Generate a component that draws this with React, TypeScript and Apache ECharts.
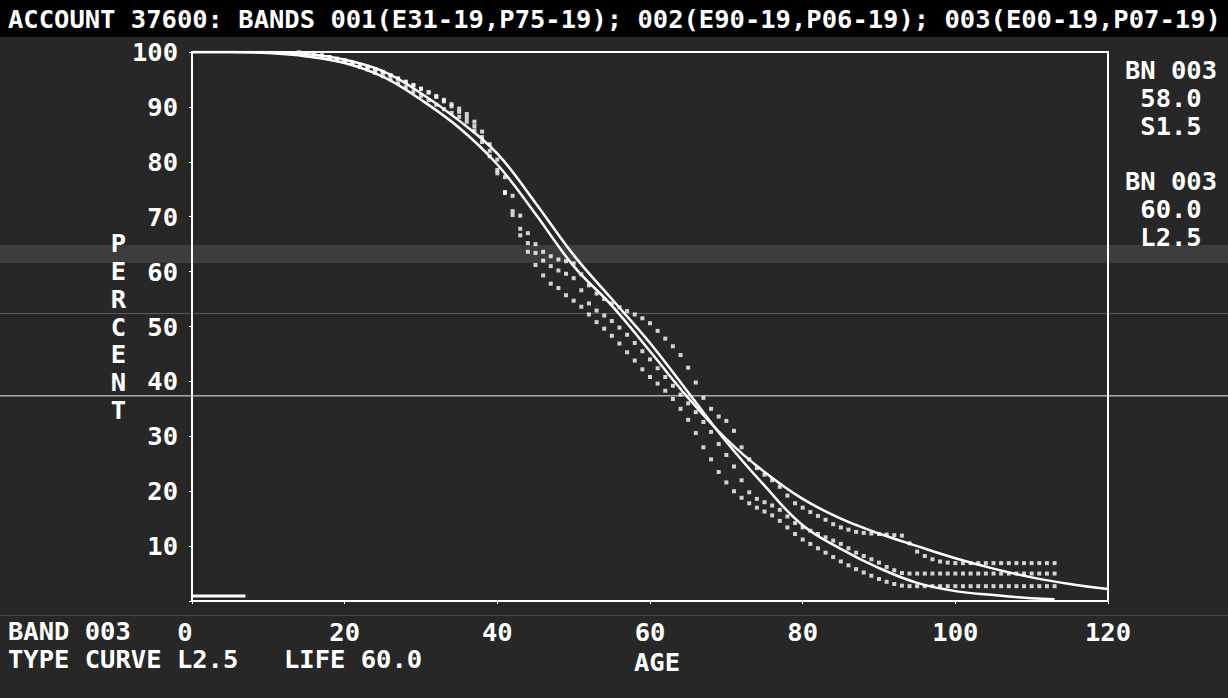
import React, { useEffect, useRef } from "react";
import * as echarts from "echarts";

const TITLE = "ACCOUNT 37600: BANDS 001(E31-19,P75-19); 002(E90-19,P06-19); 003(E00-19,P07-19)";
const xTicks = [0, 20, 40, 60, 80, 100, 120];
const yTicks = [0, 10, 20, 30, 40, 50, 60, 70, 80, 90, 100];
const rightBlock1 = ["BN 003", "58.0", "S1.5"];
const rightBlock2 = ["BN 003", "60.0", "L2.5"];
const bottomRow1 = "BAND 003";
const bottomRow2a = "TYPE CURVE L2.5";
const bottomRow2b = "LIFE 60.0";

// Fitted type curve L2.5, life 60.0
const curveLAges = [0, 5, 10, 15, 20, 25, 30, 35, 40, 45, 50, 55, 60, 65, 70, 75, 80, 85, 90, 95, 100, 105, 110, 115, 120];
const curveLPct = [100, 100, 99.8, 99.2, 98.0, 95.5, 91.3, 86.2, 79.5, 70.5, 61.0, 53.8, 45.5, 37.0, 29.5, 23.5, 18.6, 15.0, 12.3, 10.0, 7.8, 5.9, 4.3, 3.1, 2.2];

// Fitted type curve S1.5, life 58.0
const curveSAges = [0, 5, 10, 15, 20, 25, 30, 35, 40, 45, 50, 55, 60, 65, 70, 75, 80, 85, 90, 95, 100, 105, 110, 113];
const curveSPct = [100, 100, 100, 99.6, 98.6, 96.5, 92.5, 87.5, 81.5, 72.5, 63.0, 55.0, 47.0, 38.0, 29.0, 21.0, 13.8, 9.5, 6.0, 3.3, 1.8, 1.1, 0.5, 0.3];

// Observed points, ages 14..113
const dotStartAge = 14;
const band1Pct = [
  99.8, 99.7, 99.5, 99.3, 99.0, 98.7, 98.4, 98.0, 97.6, 97.2,
  96.8, 96.3, 95.7, 95.1, 94.5, 93.9, 93.3, 92.7, 92.0, 91.3,
  90.5, 89.7, 88.7, 87.3, 85.5, 83.2, 80.4, 77.2, 73.8, 70.2,
  67.0, 65.0, 63.6, 62.8, 62.2, 61.9, 61.5, 59.5, 57.5, 56.0,
  55.0, 54.2, 53.5, 52.8, 52.2, 51.5, 50.6, 49.2, 47.8, 46.4,
  44.8, 42.5, 39.8, 37.0, 35.0, 33.6, 32.8, 31.0, 28.0, 25.8,
  24.2, 23.0, 22.0, 20.8, 19.2, 17.8, 17.0, 16.2, 15.5, 14.8,
  14.0, 13.4, 13.0, 12.6, 12.4, 12.3, 12.2, 12.1, 12.0, 11.9,
  10.5, 9.0, 8.2, 7.6, 7.2, 7.0, 6.9, 6.9, 6.9, 6.9,
  6.9, 6.9, 6.9, 6.9, 6.9, 6.9, 6.9, 6.9, 6.9, 6.9,
];
const band2Pct = [
  99.9, 99.8, 99.6, 99.4, 99.1, 98.8, 98.5, 98.1, 97.7, 97.3,
  96.9, 96.4, 95.8, 95.2, 94.6, 94.0, 93.3, 92.6, 91.8, 91.0,
  90.1, 89.1, 88.0, 86.5, 84.5, 82.0, 78.5, 74.5, 71.0, 67.8,
  65.2, 63.4, 62.0, 61.0, 60.2, 59.6, 58.8, 56.6, 54.2, 52.9,
  52.0, 51.0, 49.8, 48.5, 47.0, 45.5, 44.0, 42.4, 40.8, 39.2,
  37.6, 36.0, 34.4, 32.6, 30.8, 28.6, 26.6, 24.5, 22.0, 19.8,
  18.6, 18.0, 17.4, 16.6, 15.4, 14.2, 13.4, 12.8, 12.2, 11.6,
  11.0, 10.4, 9.6, 8.8, 8.2, 7.6, 7.0, 6.2, 5.6, 5.1,
  5.0, 5.0, 5.0, 5.0, 5.0, 5.0, 5.0, 5.0, 5.0, 5.0,
  5.0, 5.0, 5.0, 5.0, 5.0, 5.0, 5.0, 5.0, 5.0, 5.0,
];
const band3Pct = [
  99.9, 99.8, 99.6, 99.3, 99.0, 98.6, 98.2, 97.8, 97.3, 96.8,
  96.2, 95.6, 95.0, 94.3, 93.6, 92.8, 92.0, 91.2, 90.4, 89.6,
  88.9, 88.2, 87.3, 85.7, 83.6, 81.0, 77.9, 74.3, 70.3, 66.6,
  63.6, 61.2, 59.3, 57.8, 57.0, 55.7, 54.7, 53.6, 52.2, 50.8,
  49.6, 48.3, 46.9, 45.3, 43.8, 42.2, 40.8, 39.6, 38.3, 36.8,
  35.0, 33.0, 30.6, 28.0, 25.8, 23.5, 21.6, 20.0, 18.8, 17.8,
  17.0, 16.3, 15.6, 14.6, 13.4, 12.2, 11.2, 10.4, 9.6, 8.8,
  8.0, 7.2, 6.5, 5.8, 5.2, 4.6, 4.0, 3.5, 3.1, 2.8,
  2.7, 2.7, 2.7, 2.7, 2.7, 2.7, 2.7, 2.7, 2.7, 2.7,
  2.7, 2.7, 2.7, 2.7, 2.7, 2.7, 2.7, 2.7, 2.7, 2.7,
];

// Short marker line near zero at young ages
const baseAges = [0, 7];
const basePct = [0.9, 0.9];

const FONT_FAMILY = '"DejaVu Sans Mono", monospace';
const FONT = 'bold 25.5px "DejaVu Sans Mono", monospace';

function pairs(xs: number[], ys: number[]) {
  return xs.map((x, i) => [x, ys[i]]);
}
function dots(ys: number[]) {
  return ys.map((y, i) => [dotStartAge + i, y]);
}

export default function App() {
  const ref = useRef<HTMLDivElement>(null);
  useEffect(() => {
    if (!ref.current) return;
    const chart = echarts.init(ref.current, undefined, { renderer: "svg" });
    const W = 1228;
    const txt = (text: string, x: number, y: number, align: string, lineHeight: number) => ({
      type: "text", x, y,
      style: { text, fill: "#fff", font: FONT, align, verticalAlign: "middle", lineHeight },
    });
    const graphics: any[] = [
      { type: "rect", shape: { x: 0, y: 0, width: W, height: 37 }, style: { fill: "#000" }, z: -10 },
      { type: "rect", shape: { x: 0, y: 245, width: W, height: 18 }, style: { fill: "rgba(255,255,255,0.10)" }, z: -10 },
      { type: "rect", shape: { x: 0, y: 313, width: W, height: 1 }, style: { fill: "rgba(255,255,255,0.25)" }, z: -10 },
      { type: "rect", shape: { x: 0, y: 395, width: W, height: 1.5 }, style: { fill: "rgba(255,255,255,0.6)" }, z: -10 },
      { type: "rect", shape: { x: 0, y: 615, width: W, height: 1 }, style: { fill: "rgba(255,255,255,0.15)" }, z: -10 },
      txt(TITLE, 8, 19, "left", 26),
      txt(bottomRow1, 8, 631, "left", 23),
      txt(bottomRow2a, 8, 659, "left", 23),
      txt(bottomRow2b, 284, 659, "left", 23),
      txt(rightBlock1.join("\n"), 1171, 98, "center", 28),
      txt(rightBlock2.join("\n"), 1171, 209, "center", 28),
    ];

    const labelStyle = {
      color: "#fff",
      fontFamily: FONT_FAMILY,
      fontWeight: "bold" as const,
      fontSize: 25.5,
    };

    const dotSeries = (name: string, ys: number[]) => ({
      name,
      type: "scatter",
      data: dots(ys),
      symbol: "rect",
      symbolSize: 4,
      itemStyle: { color: "#ffffff" },
      z: 3,
    });

    chart.setOption({
      animation: false,
      backgroundColor: "#272727",
      grid: {
        left: 192, right: 120, top: 52, bottom: 97,
        show: true, borderColor: "#fff", borderWidth: 2, backgroundColor: "transparent",
      },
      xAxis: {
        type: "value",
        min: 0, max: 120, interval: 20,
        name: "AGE",
        nameLocation: "middle",
        nameGap: 42,
        nameTextStyle: { ...labelStyle, lineHeight: 23, padding: [0, 0, 0, 14] },
        axisLine: { show: true, lineStyle: { color: "#fff", width: 2 } },
        axisTick: { show: true, length: 3, lineStyle: { color: "#fff" } },
        splitLine: { show: false },
        axisLabel: {
          ...labelStyle,
          margin: 19,
          lineHeight: 23,
          formatter: (v: number) => (xTicks.includes(v) ? (v === 0 ? "{z|0}" : String(v)) : ""),
          rich: { z: { ...labelStyle, lineHeight: 23, padding: [0, 14, 0, 0] } },
        },
      },
      yAxis: {
        type: "value",
        min: 0, max: 100, interval: 10,
        name: "P\nE\nR\nC\nE\nN\nT",
        nameLocation: "middle",
        nameRotate: 0,
        nameGap: 54,
        nameTextStyle: { ...labelStyle, lineHeight: 27.8, align: "center" },
        axisLine: { show: true, lineStyle: { color: "#fff", width: 2 } },
        axisTick: { show: true, length: 3, lineStyle: { color: "#fff" } },
        splitLine: { show: false },
        axisLabel: {
          ...labelStyle,
          margin: 14,
          formatter: (v: number) => (v === 0 || !yTicks.includes(v) ? "" : String(v)),
        },
      },
      series: [
        {
          name: "L2.5 60.0", type: "line", data: pairs(curveLAges, curveLPct),
          smooth: 0.4, showSymbol: false,
          lineStyle: { color: "#fff", width: 2.5 }, z: 4,
        },
        {
          name: "S1.5 58.0", type: "line", data: pairs(curveSAges, curveSPct),
          smooth: 0.4, showSymbol: false,
          lineStyle: { color: "#fff", width: 2.5 }, z: 4,
        },
        dotSeries("Band 001", band1Pct),
        dotSeries("Band 002", band2Pct),
        dotSeries("Band 003", band3Pct),
        {
          name: "base", type: "line", data: pairs(baseAges, basePct),
          showSymbol: false, lineStyle: { color: "#fff", width: 3 }, z: 4,
        },
      ],
      graphic: graphics,
    });
    return () => chart.dispose();
  }, []);
  return (
    <div
      ref={ref}
      style={{ position: "fixed", left: 0, top: 0, width: 1228, height: 698 }}
    />
  );
}
